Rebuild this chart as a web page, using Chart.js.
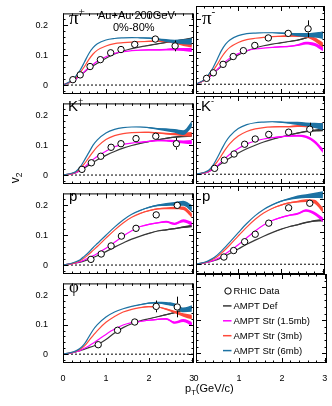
<!DOCTYPE html>
<html>
<head>
<meta charset="utf-8">
<script src="https://cdn.jsdelivr.net/npm/chart.js@4.4.0/dist/chart.umd.min.js"></script>
<style>
  html, body { margin: 0; padding: 0; background: #fff; }
  #wrap { position: relative; width: 332px; height: 406px; overflow: hidden; font-family: "Liberation Sans", Arial, sans-serif; }
  #wrap canvas { position: absolute; }
  .lbl { position: absolute; white-space: nowrap; color: #000; line-height: 1; }
  .lbl sup { font-size: 60%; vertical-align: 0; position: relative; top: -0.75em; }
  .lbl sub { font-size: 70%; vertical-align: 0; position: relative; top: 0.35em; }
  .serif { font-family: "Liberation Serif", "DejaVu Serif", serif; }
</style>
</head>
<body>
<div id="wrap"></div>
<script>
// --- data ---
const PT_GRID = [0, 0.2, 0.3, 0.4, 0.5, 0.6, 0.7, 0.8, 1.0, 1.2, 1.4, 1.6, 1.8, 2.0, 2.2, 2.4, 2.6, 2.8, 3.0];
const X_TICKS = [0, 1, 2, 3];
const Y_TICKS = [0, 0.1, 0.2];

// band half widths (statistical spread of the transport curves)
const BAND_DEF  = [0,0,0,0,0,0,0,0,0,0,0,0,0,0.001,0.001,0.002,0.002,0.003,0.004];
const BAND_15   = [0,0,0,0,0,0,0,0,0,0,0,0,0.001,0.002,0.002,0.003,0.004,0.005,0.007];
const BAND_3    = [0,0,0,0,0,0,0,0,0,0,0,0,0.001,0.002,0.002,0.003,0.004,0.006,0.008];
const BAND_6    = [0,0,0,0,0,0,0,0,0,0,0,0,0.001,0.002,0.003,0.005,0.006,0.008,0.011];

// pi+
const PIP_PT  = [0.23, 0.40, 0.63, 0.87, 1.11, 1.35, 1.67, 2.15, 2.61];
const PIP_V2  = [0.018, 0.034, 0.062, 0.085, 0.108, 0.119, 0.136, 0.154, 0.131];
const PIP_ERR = [0.001, 0.001, 0.001, 0.002, 0.002, 0.003, 0.004, 0.006, 0.018];
const PIP_S6  = [0,0.015,0.03,0.05,0.077,0.105,0.125,0.138,0.151,0.156,0.158,0.159,0.158,0.157,0.154,0.149,0.146,0.145,0.146];
const PIP_S3  = [0,0.013,0.025,0.042,0.062,0.085,0.104,0.117,0.131,0.139,0.142,0.144,0.145,0.146,0.147,0.146,0.142,0.137,0.134];
const PIP_S15 = [0,0.012,0.02,0.032,0.045,0.058,0.069,0.08,0.095,0.106,0.112,0.115,0.117,0.118,0.118,0.119,0.12,0.119,0.118];
const PIP_DEF = [0,0.012,0.022,0.033,0.044,0.055,0.064,0.073,0.09,0.104,0.114,0.122,0.128,0.133,0.138,0.143,0.147,0.151,0.155];

// pi-
const PIM_PT  = [0.25, 0.41, 0.64, 0.88, 1.12, 1.39, 1.71, 2.18, 2.65];
const PIM_V2  = [0.018, 0.035, 0.061, 0.085, 0.103, 0.119, 0.142, 0.156, 0.170];
const PIM_ERR = [0.001, 0.001, 0.001, 0.002, 0.002, 0.003, 0.004, 0.007, 0.026];
const PIM_S6  = [0,0.015,0.03,0.05,0.076,0.103,0.123,0.136,0.149,0.155,0.157,0.158,0.158,0.157,0.155,0.152,0.151,0.151,0.150];
const PIM_S3  = [0,0.013,0.025,0.041,0.06,0.082,0.1,0.113,0.128,0.137,0.141,0.144,0.146,0.147,0.148,0.148,0.147,0.138,0.12];
const PIM_S15 = [0,0.012,0.02,0.032,0.045,0.058,0.07,0.08,0.094,0.103,0.108,0.111,0.113,0.115,0.116,0.12,0.126,0.122,0.108];
const PIM_DEF = [0,0.012,0.022,0.033,0.044,0.055,0.065,0.074,0.09,0.102,0.111,0.118,0.123,0.127,0.131,0.135,0.142,0.152,0.158];

// K+
const KP_PT  = [0.44, 0.66, 0.88, 1.12, 1.35, 1.70, 2.16, 2.64];
const KP_V2  = [0.019, 0.041, 0.063, 0.093, 0.105, 0.122, 0.130, 0.105];
const KP_ERR = [0.001, 0.002, 0.002, 0.003, 0.003, 0.004, 0.006, 0.02];
const KP_S6  = [0,0.006,0.012,0.027,0.05,0.075,0.1,0.118,0.141,0.153,0.159,0.161,0.161,0.159,0.155,0.152,0.148,0.142,0.17];
const KP_S3  = [0,0.005,0.01,0.022,0.038,0.058,0.078,0.095,0.119,0.132,0.139,0.142,0.143,0.143,0.141,0.139,0.137,0.136,0.136];
const KP_S15 = [0,0.004,0.008,0.016,0.027,0.04,0.052,0.063,0.08,0.095,0.103,0.107,0.11,0.113,0.115,0.115,0.113,0.111,0.11];
const KP_DEF = [0,0.004,0.008,0.015,0.024,0.033,0.042,0.051,0.066,0.079,0.09,0.099,0.106,0.112,0.118,0.123,0.127,0.13,0.132];

// K-
const KM_PT  = [0.44, 0.67, 0.90, 1.15, 1.40, 1.72, 2.19, 2.69];
const KM_V2  = [0.018, 0.043, 0.062, 0.092, 0.108, 0.122, 0.129, 0.138];
const KM_ERR = [0.001, 0.002, 0.002, 0.003, 0.003, 0.004, 0.006, 0.02];
const KM_S6  = [0,0.006,0.012,0.027,0.05,0.075,0.099,0.117,0.14,0.152,0.158,0.16,0.161,0.16,0.158,0.156,0.153,0.15,0.146];
const KM_S3  = [0,0.005,0.01,0.022,0.038,0.057,0.077,0.094,0.117,0.131,0.139,0.143,0.145,0.146,0.146,0.148,0.148,0.149,0.15];
const KM_S15 = [0,0.004,0.008,0.016,0.026,0.038,0.05,0.061,0.079,0.093,0.102,0.108,0.112,0.115,0.117,0.118,0.115,0.1,0.072];
const KM_DEF = [0,0.004,0.008,0.015,0.024,0.033,0.042,0.05,0.065,0.078,0.089,0.099,0.107,0.114,0.12,0.126,0.131,0.134,0.136];

// p
const P_PT  = [0.65, 0.89, 1.12, 1.36, 1.70, 2.17, 2.66];
const P_V2  = [0.019, 0.037, 0.064, 0.097, 0.123, 0.168, 0.200];
const P_ERR = [0.001, 0.002, 0.002, 0.003, 0.004, 0.005, 0.007];
const P_S6  = [0,0.006,0.011,0.018,0.03,0.043,0.058,0.072,0.1,0.127,0.151,0.17,0.183,0.193,0.2,0.203,0.205,0.207,0.19];
const P_S3  = [0,0.005,0.009,0.015,0.024,0.036,0.049,0.062,0.09,0.117,0.141,0.16,0.173,0.182,0.188,0.19,0.191,0.19,0.166];
const P_S15 = [0,0.004,0.007,0.011,0.017,0.024,0.031,0.039,0.056,0.076,0.097,0.115,0.129,0.136,0.141,0.145,0.138,0.148,0.138];
const P_DEF = [0,0.004,0.007,0.01,0.014,0.019,0.025,0.031,0.045,0.06,0.074,0.087,0.097,0.106,0.114,0.118,0.122,0.127,0.131];

// anti-p
const PB_PT  = [0.66, 0.89, 1.15, 1.40, 1.72, 2.19, 2.69];
const PB_V2  = [0.022, 0.042, 0.069, 0.092, 0.126, 0.173, 0.187];
const PB_ERR = [0.001, 0.002, 0.002, 0.003, 0.004, 0.005, 0.008];
const PB_S6  = [0,0.006,0.011,0.018,0.028,0.04,0.054,0.068,0.097,0.125,0.149,0.168,0.182,0.193,0.2,0.206,0.209,0.211,0.213];
const PB_S3  = [0,0.005,0.009,0.015,0.023,0.034,0.046,0.059,0.087,0.114,0.138,0.157,0.171,0.181,0.188,0.192,0.195,0.192,0.166];
const PB_S15 = [0,0.004,0.007,0.011,0.017,0.024,0.032,0.041,0.06,0.081,0.102,0.12,0.134,0.143,0.15,0.155,0.165,0.156,0.136];
const PB_DEF = [0,0.004,0.007,0.01,0.014,0.02,0.026,0.033,0.047,0.061,0.074,0.086,0.097,0.107,0.115,0.121,0.128,0.133,0.135];

// phi
const PHI_PT  = [0.82, 1.27, 1.67, 2.17, 2.66];
const PHI_V2  = [0.032, 0.081, 0.109, 0.162, 0.160];
const PHI_ERR = [0.003, 0.004, 0.006, 0.02, 0.035];
const PHI_S6  = [0,0.006,0.011,0.02,0.035,0.058,0.082,0.1,0.126,0.143,0.154,0.162,0.168,0.173,0.175,0.172,0.167,0.15,0.155];
const PHI_S3  = [0,0.005,0.01,0.017,0.028,0.045,0.063,0.08,0.108,0.128,0.143,0.152,0.158,0.161,0.16,0.153,0.143,0.133,0.126];
const PHI_S15 = [0,0.004,0.008,0.013,0.02,0.028,0.037,0.047,0.067,0.085,0.099,0.107,0.111,0.115,0.118,0.12,0.107,0.114,0.102];
const PHI_DEF = [0,0.004,0.008,0.012,0.017,0.022,0.027,0.032,0.05,0.072,0.09,0.103,0.113,0.12,0.127,0.134,0.141,0.15,0.16];

const DATA_LABEL = 'RHIC Data';
const MODEL_NAMES  = ['AMPT Def', 'AMPT Str (1.5mb)', 'AMPT Str (3mb)', 'AMPT Str (6mb)'];
const MODEL_COLORS = ['#383838', '#ff00ff', '#ff4a3a', '#1d72a3'];
const MODEL_BANDS  = [BAND_DEF, BAND_15, BAND_3, BAND_6];

// --- layout (page pixels) ---
const COL_X = [63, 196];
const COL_W = [133, 131];
const ROW_Y = [4, 94, 184, 274];
const ROW_H = [90, 90, 90, 89];
const ML = 48, MB = 20, MT = 3, MR = 3;
const X_MAX = 3.05, Y_MIN = -0.03, Y_MAX = 0.24;
const FONT = '"Liberation Sans", Arial, sans-serif';

const PANELS = [
  { col: 0, row: 0, dx: 6, dy: 4, label: '<span class="serif" style="font-size:19px">π<sup>+</sup></span>', pt: PIP_PT, v2: PIP_V2, err: PIP_ERR, models: [PIP_DEF, PIP_S15, PIP_S3, PIP_S6] },
  { col: 1, row: 0, dx: 6, dy: 4, label: '<span class="serif" style="font-size:19px">π<sup>-</sup></span>', pt: PIM_PT, v2: PIM_V2, err: PIM_ERR, models: [PIM_DEF, PIM_S15, PIM_S3, PIM_S6] },
  { col: 0, row: 1, dx: 5, dy: 4, label: '<span style="font-size:15px">K<sup>+</sup></span>', pt: KP_PT, v2: KP_V2, err: KP_ERR, models: [KP_DEF, KP_S15, KP_S3, KP_S6] },
  { col: 1, row: 1, dx: 5, dy: 4, label: '<span style="font-size:15px">K<sup>-</sup></span>', pt: KM_PT, v2: KM_V2, err: KM_ERR, models: [KM_DEF, KM_S15, KM_S3, KM_S6] },
  { col: 0, row: 2, dx: 6, dy: 4, label: '<span style="font-size:15px">p</span>', pt: P_PT, v2: P_V2, err: P_ERR, models: [P_DEF, P_S15, P_S3, P_S6] },
  { col: 1, row: 2, dx: 6, dy: 4, label: '<span style="font-size:15px;text-decoration:overline">p</span>', pt: PB_PT, v2: PB_V2, err: PB_ERR, models: [PB_DEF, PB_S15, PB_S3, PB_S6] },
  { col: 0, row: 3, dx: 6, dy: 4, label: '<span class="serif" style="font-size:17px">φ</span>', pt: PHI_PT, v2: PHI_V2, err: PHI_ERR, models: [PHI_DEF, PHI_S15, PHI_S3, PHI_S6] }
];

// frame with inward major/minor ticks on all four sides
const framePlugin = {
  id: 'rootFrame',
  afterDraw(chart) {
    const { ctx, chartArea: a, scales } = chart;
    const xs = scales.x, ys = scales.y;
    ctx.save();
    ctx.strokeStyle = '#000';
    ctx.lineWidth = 1;
    ctx.beginPath();
    for (let v = 0; v <= X_MAX + 1e-9; v += 0.2) {
      const major = Math.abs(v - Math.round(v)) < 1e-6;
      const len = major ? 5 : 2.5;
      const px = Math.round(xs.getPixelForValue(v)) + 0.5;
      ctx.moveTo(px, a.bottom); ctx.lineTo(px, a.bottom - len);
      ctx.moveTo(px, a.top); ctx.lineTo(px, a.top + len);
    }
    for (let k = -1; k <= 11; k++) {
      const v = k * 0.02;
      const major = k % 5 === 0;
      const len = major ? 5 : 2.5;
      const py = Math.round(ys.getPixelForValue(v)) + 0.5;
      ctx.moveTo(a.left, py); ctx.lineTo(a.left + len, py);
      ctx.moveTo(a.right, py); ctx.lineTo(a.right - len, py);
    }
    ctx.stroke();
    ctx.strokeRect(a.left + 0.5, a.top + 0.5, a.right - a.left - 1, a.bottom - a.top - 1);
    ctx.restore();
  }
};

// vertical error bars on the data points, outside the marker
const errorBarPlugin = {
  id: 'errorBars',
  afterDatasetsDraw(chart) {
    const ds = chart.data.datasets[0];
    if (!ds || !ds.errors) return;
    const { ctx, scales } = chart;
    const r = ds.pointRadius + 0.5;
    ctx.save();
    ctx.strokeStyle = '#000';
    ctx.lineWidth = 1;
    ctx.beginPath();
    ds.data.forEach((p, i) => {
      const e = ds.errors[i];
      const px = Math.round(scales.x.getPixelForValue(p.x)) + 0.5;
      const py = scales.y.getPixelForValue(p.y);
      const hi = scales.y.getPixelForValue(p.y + e);
      const lo = scales.y.getPixelForValue(p.y - e);
      if (py - hi > r) { ctx.moveTo(px, hi); ctx.lineTo(px, py - r); }
      if (lo - py > r) { ctx.moveTo(px, py + r); ctx.lineTo(px, lo); }
    });
    ctx.stroke();
    ctx.restore();
  }
};

// legend drawn inside the empty lower-right panel
const legendPlugin = {
  id: 'panelLegend',
  afterDraw(chart, args, opts) {
    if (!opts.show) return;
    const { ctx, chartArea: a } = chart;
    ctx.save();
    ctx.font = '9.5px ' + FONT;
    ctx.textBaseline = 'middle';
    ctx.fillStyle = '#000';
    chart.data.datasets.forEach((ds, i) => {
      const y = a.top + 17 + i * 14.9;
      const x = a.left + 27;
      if (ds.pointStyle === 'circle') {
        ctx.beginPath();
        ctx.arc(x + 5, y, 3.2, 0, Math.PI * 2);
        ctx.fillStyle = '#fff'; ctx.fill();
        ctx.strokeStyle = '#000'; ctx.lineWidth = 1; ctx.stroke();
      } else {
        ctx.beginPath();
        ctx.moveTo(x, y); ctx.lineTo(x + 8.5, y);
        ctx.strokeStyle = ds.borderColor; ctx.lineWidth = 1.5; ctx.stroke();
      }
      ctx.fillStyle = '#000';
      ctx.fillText(ds.label, x + 10.5, y + 0.5);
    });
    ctx.restore();
  }
};

function modelSets(values, band, color) {
  const mk = f => PT_GRID.map((x, i) => ({ x, y: f(i) }));
  const common = { pointRadius: 0, cubicInterpolationMode: 'monotone' };
  return [
    { ...common, data: mk(i => values[i]), borderColor: color, borderWidth: 1.2, fill: false },
    { ...common, data: mk(i => values[i] + band[i]), borderColor: 'rgba(0,0,0,0)', borderWidth: 0, backgroundColor: color, fill: '+1' },
    { ...common, data: mk(i => values[i] - band[i]), borderColor: 'rgba(0,0,0,0)', borderWidth: 0, fill: false }
  ];
}

function makeChart(col, row, datasets, legend) {
  const wrap = document.getElementById('wrap');
  const canvas = document.createElement('canvas');
  const w = COL_W[col] + ML + MR, h = ROW_H[row] + MT + MB;
  canvas.width = w; canvas.height = h;
  canvas.style.width = w + 'px'; canvas.style.height = h + 'px';
  canvas.style.left = (COL_X[col] - ML) + 'px';
  canvas.style.top = (ROW_Y[row] - MT) + 'px';
  wrap.appendChild(canvas);

  return new Chart(canvas.getContext('2d'), {
    type: 'line',
    data: { datasets },
    options: {
      responsive: false,
      animation: false,
      devicePixelRatio: 1,
      layout: { padding: { top: MT, right: MR, left: 0, bottom: 0 } },
      plugins: { legend: { display: false }, tooltip: { enabled: false }, panelLegend: { show: legend } },
      scales: {
        x: {
          type: 'linear', min: 0, max: X_MAX,
          afterBuildTicks: s => { s.ticks = X_TICKS.map(v => ({ value: v })); },
          afterFit: s => { s.height = MB; },
          grid: { display: false }, border: { display: false },
          ticks: { display: row === 3, padding: 2, color: '#000', font: { size: 9, family: FONT }, maxRotation: 0, autoSkip: false }
        },
        y: {
          type: 'linear', min: Y_MIN, max: Y_MAX,
          afterBuildTicks: s => { s.ticks = Y_TICKS.map(v => ({ value: v })); },
          afterFit: s => { s.width = ML; },
          grid: { display: false }, border: { display: false },
          ticks: { display: col === 0, padding: 7, color: '#000', font: { size: 9, family: FONT }, callback: v => String(v) }
        }
      }
    },
    plugins: [framePlugin, errorBarPlugin, legendPlugin]
  });
}

function addLabel(html, left, top, size, extra) {
  const d = document.createElement('div');
  d.className = 'lbl';
  d.style.left = left + 'px';
  d.style.top = top + 'px';
  if (size) d.style.fontSize = size + 'px';
  if (extra) Object.assign(d.style, extra);
  d.innerHTML = html;
  document.getElementById('wrap').appendChild(d);
  return d;
}

PANELS.forEach(p => {
  const sets = [{
    label: DATA_LABEL,
    data: p.pt.map((x, i) => ({ x, y: p.v2[i] })),
    errors: p.err,
    showLine: false,
    pointStyle: 'circle',
    pointRadius: 3.2,
    pointBackgroundColor: '#fff',
    pointBorderColor: '#000',
    pointBorderWidth: 1
  }];
  // blue drawn last on top: earlier datasets draw above later ones
  for (let m = MODEL_NAMES.length - 1; m >= 0; m--) {
    sets.push(...modelSets(p.models[m], MODEL_BANDS[m], MODEL_COLORS[m]));
  }
  sets.push({
    data: [{ x: 0, y: 0 }, { x: X_MAX, y: 0 }],
    borderColor: '#000', borderWidth: 1, borderDash: [2, 2], pointRadius: 0, fill: false
  });
  makeChart(p.col, p.row, sets, false);
  addLabel(p.label, COL_X[p.col] + p.dx, ROW_Y[p.row] + p.dy);
});

// legend panel
const legendSets = [{ label: DATA_LABEL, data: [], pointStyle: 'circle' }]
  .concat(MODEL_NAMES.map((n, i) => ({ label: n, data: [], borderColor: MODEL_COLORS[i] })));
makeChart(1, 3, legendSets, true);

// text
addLabel('Au+Au 200GeV', 98, 10, 11);
addLabel('0%-80%', 113, 22, 11);
addLabel('v<sub>2</sub>', 0, 172, 12, { width: '30px', textAlign: 'center', transform: 'rotate(-90deg)' });
addLabel('p<sub>T</sub>(GeV/c)', 185, 383, 11);
</script>
</body>
</html>
